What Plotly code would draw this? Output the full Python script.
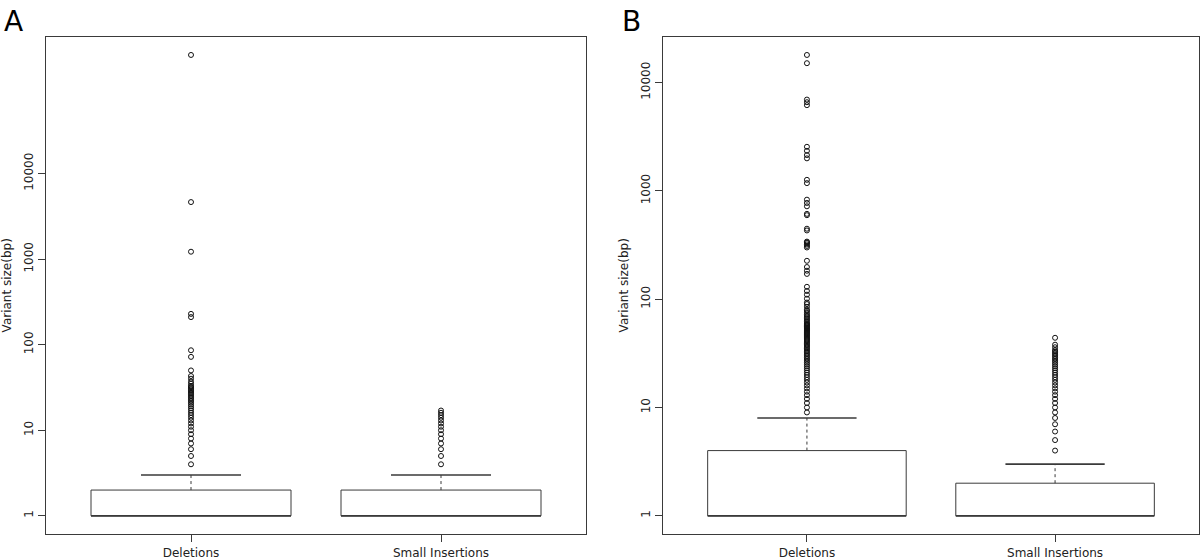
import numpy as np
import plotly.graph_objects as go

categories = ["Deletions", "Small Insertions"]
y_tickvals = [1, 10, 100, 1000, 10000]
y_title = "Variant size(bp)"

# Panel A summary statistics (per category)
a_q1 = [1, 1]
a_median = [1, 1]
a_q3 = [2, 2]
a_upper = [3, 3]
a_del_outliers = [4, 5, 6, 7, 8, 9, 10, 11, 12, 13, 14, 15, 16, 17, 18, 19, 20,
                  21, 22, 23, 24, 25, 26, 27, 28, 29, 30, 31, 32, 33, 35, 37, 40,
                  43, 50, 72, 86, 210, 229, 1220, 4640, 243000]
a_ins_outliers = [4, 5, 6, 7, 8, 9, 10, 11, 12, 13, 14, 15, 16, 17]

# Panel B summary statistics (per category)
b_q1 = [1, 1]
b_median = [1, 1]
b_q3 = [4, 2]
b_upper = [8, 3]
b_del_outliers = list(range(9, 61)) + [
    62, 64, 66, 68, 70, 72, 75, 78, 80, 85, 90, 93, 101, 110, 119, 130, 171,
    183, 198, 226, 300, 310, 320, 330, 335, 340, 431, 447, 596, 613, 720, 773,
    829, 1178, 1264, 1995, 2140, 2340, 2550, 6180, 6580, 6960, 15080, 17960]
b_ins_outliers = list(range(4, 35)) + [36, 38, 44]

LINE = "#3a3a3a"
FONT = "DejaVu Sans"

fig = go.Figure()


def add_panel(fig, xa, ya, q1, med, q3, up, outliers):
    for i, cat in enumerate(categories):
        c = i + 1
        hw = 0.4
        # box
        fig.add_trace(go.Scatter(
            x=[c - hw, c + hw, c + hw, c - hw, c - hw],
            y=[q1[i], q1[i], q3[i], q3[i], q1[i]],
            mode="lines", line=dict(color=LINE, width=1),
            xaxis=xa, yaxis=ya, showlegend=False, hoverinfo="skip"))
        # median
        fig.add_trace(go.Scatter(
            x=[c - hw, c + hw], y=[med[i], med[i]],
            mode="lines", line=dict(color=LINE, width=1.8),
            xaxis=xa, yaxis=ya, showlegend=False, hoverinfo="skip"))
        # whisker (dashed)
        fig.add_trace(go.Scatter(
            x=[c, c], y=[q3[i], up[i]],
            mode="lines", line=dict(color=LINE, width=1, dash="3px,3px"),
            xaxis=xa, yaxis=ya, showlegend=False, hoverinfo="skip"))
        # staple
        fig.add_trace(go.Scatter(
            x=[c - hw / 2, c + hw / 2], y=[up[i], up[i]],
            mode="lines", line=dict(color=LINE, width=1.6),
            xaxis=xa, yaxis=ya, showlegend=False, hoverinfo="skip"))
        # outliers
        fig.add_trace(go.Scatter(
            x=[c] * len(outliers[i]), y=outliers[i],
            mode="markers",
            marker=dict(symbol="circle-open", size=5, color="#111",
                        line=dict(width=1, color="#111")),
            xaxis=xa, yaxis=ya, showlegend=False, name=cat))


add_panel(fig, "x", "y", a_q1, a_median, a_q3, a_upper,
          [a_del_outliers, a_ins_outliers])
add_panel(fig, "x2", "y2", b_q1, b_median, b_q3, b_upper,
          [b_del_outliers, b_ins_outliers])


def log_range(values):
    hi = np.log10(max(values))
    return [-0.04 * hi, 1.04 * hi]


ydom = [1 - 541 / 560, 1 - 37 / 560]
common_x = dict(range=[0.42, 2.58], tickvals=[1, 2], ticktext=categories,
                showline=True, mirror=True, linecolor=LINE, linewidth=1,
                ticks="outside", ticklen=7, tickcolor=LINE, showgrid=False,
                zeroline=False, tickfont=dict(family=FONT, size=12, color="#222"))
common_y = dict(type="log", tickvals=y_tickvals,
                ticktext=[str(v) for v in y_tickvals], tickangle=-90,
                showline=True, mirror=True, linecolor=LINE, linewidth=1,
                ticks="outside", ticklen=7, tickcolor=LINE, showgrid=False,
                zeroline=False, tickfont=dict(family=FONT, size=12, color="#222"))

fig.update_layout(
    width=1200, height=560,
    margin=dict(l=0, r=0, t=0, b=0),
    paper_bgcolor="white", plot_bgcolor="white",
    xaxis=dict(domain=[46 / 1200, 586 / 1200], anchor="y", **common_x),
    yaxis=dict(domain=ydom, anchor="x",
               range=log_range(a_del_outliers + a_ins_outliers), **common_y),
    xaxis2=dict(domain=[663 / 1200, 1199 / 1200], anchor="y2", **common_x),
    yaxis2=dict(domain=ydom, anchor="x2",
                range=log_range(b_del_outliers + b_ins_outliers), **common_y),
    annotations=[
        dict(text="A", x=2 / 1200, y=1 - 3 / 560, xref="paper", yref="paper",
             xanchor="left", yanchor="top", showarrow=False,
             font=dict(family=FONT, size=28, color="black")),
        dict(text="B", x=620 / 1200, y=1 - 3 / 560, xref="paper", yref="paper",
             xanchor="left", yanchor="top", showarrow=False,
             font=dict(family=FONT, size=28, color="black")),
        dict(text=y_title, x=7 / 1200, y=(ydom[0] + ydom[1]) / 2,
             xref="paper", yref="paper", textangle=-90, showarrow=False,
             xanchor="center", yanchor="middle",
             font=dict(family=FONT, size=12, color="#222")),
        dict(text=y_title, x=624 / 1200, y=(ydom[0] + ydom[1]) / 2,
             xref="paper", yref="paper", textangle=-90, showarrow=False,
             xanchor="center", yanchor="middle",
             font=dict(family=FONT, size=12, color="#222")),
    ],
)

fig.write_html("out.html",
               config={"displayModeBar": False},
               post_script="document.body.style.margin='0';"
                           "document.body.style.overflow='hidden';")
